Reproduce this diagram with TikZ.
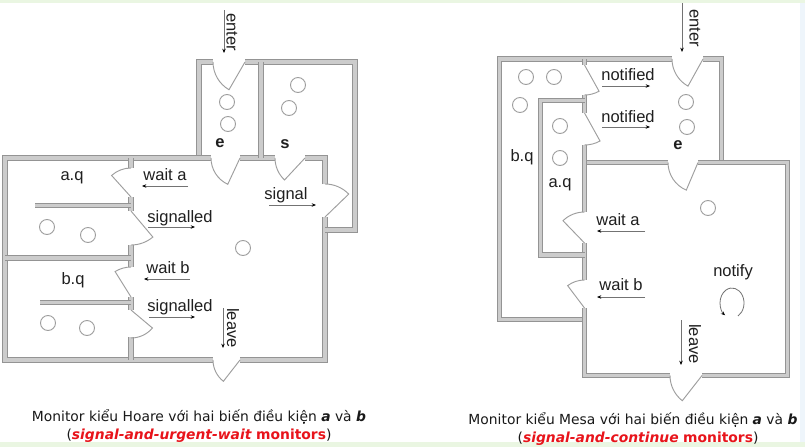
\documentclass[tikz,border=0pt]{standalone}
\usepackage{fontspec}
\setmainfont{Liberation Sans}
\newfontfamily\capfont{DejaVu Sans}
\usetikzlibrary{arrows.meta}
\definecolor{bandgreen}{HTML}{EAF6E2}
\definecolor{bandblue}{HTML}{EEF5FB}
\definecolor{capred}{HTML}{E8141B}
\newcommand\drw[5]{\draw[doorst] (#1,#2) ++(#4:#3) arc[start angle=#4, end angle=#5, radius=#3] -- (#1,#2);}
\begin{document}
\begin{tikzpicture}[x=0.75pt,y=-0.75pt,
  wall/.style={draw=black!42, line width=0.8pt, double=black!20, double distance=2.3pt},
  doorst/.style={draw=black!38, line width=0.7pt},
  pers/.style={draw=black!38, line width=0.7pt},
  arr/.style={draw=black!55, line width=0.6pt, -{Stealth[length=3.2pt,width=2.6pt,black]}},
  lbl/.style={font=\fontsize{12.4}{14}\selectfont, text=black!88, inner sep=0pt},
  blbl/.style={font=\bfseries\fontsize{12.4}{14}\selectfont, text=black!88, inner sep=0pt},
  captxt/.style={font=\capfont\fontsize{10.4}{12}\selectfont, text=black!90, inner sep=0pt}]
\useasboundingbox (0,0) rectangle (805,447);
\clip (0,0) rectangle (805,447);
\fill[white] (0,0) rectangle (805,447);
\fill[bandgreen] (0,0) rectangle (805,3);
\fill[bandgreen] (0,442) rectangle (805,447);
\fill[bandblue] (800,3) rectangle (805,442);

% ================= LEFT (Hoare) =================
% walls
\draw[wall] (213,62) -- (199,62) -- (199,158);
\draw[wall] (211,158) -- (5,158) -- (5,360) -- (213,360);
\draw[wall] (240,360) -- (325,360) -- (325,217);
\draw[wall] (325,184) -- (325,158) -- (305,158);
\draw[wall] (275,158) -- (240,158);
\draw[wall] (245,62) -- (355,62) -- (355,230) -- (325,230);
\draw[wall] (261,62) -- (261,158);
\draw[wall] (131,158) -- (131,168);
\draw[wall] (131,197) -- (131,211);
\draw[wall] (131,245) -- (131,267);
\draw[wall] (131,297) -- (131,310);
\draw[wall] (131,337) -- (131,360);
\draw[wall] (35,205.5) -- (131,205.5);
\draw[wall] (5,258) -- (131,258);
\draw[wall] (40,302.5) -- (131,302.5);
% doors
\drw{245}{62}{32}{180}{120}
\drw{240}{158}{29}{180}{115}
\drw{305}{158}{30}{180}{133}
\drw{325}{217}{33}{-90}{-44}
\drw{131}{197}{29}{-90}{-132}
\drw{131}{211}{34}{90}{50}
\drw{131}{297}{30}{-90}{-122}
\drw{131}{310}{28}{90}{40}
\drw{240}{360}{27}{180}{128}
% people
\foreach \p in {(227,102),(228,124),(298,85),(289,108),(243,248),(47,227),(88,235),(48,323),(87,328)}
  \draw[pers] \p circle[radius=7.5];
% labels and arrows
\node[lbl, rotate=-90] (enterL) at (232,32) {enter};
\coordinate (enLa) at (224,10); \coordinate (enLb) at (224,53);
\draw[arr] (enLa) -- (enLb);
\node[blbl] (eL) at (220,143) {e};
\node[blbl] (sL) at (285,144) {s};
\node[lbl] (aqL) at (72,178) {a.q};
\node[lbl] (bqL) at (73,280) {b.q};
\node[lbl] (waL) at (165,175) {wait a};
\coordinate (waLa) at (188,186); \coordinate (waLb) at (142,186);
\draw[arr] (waLa) -- (waLb);
\node[lbl] (saL) at (180,218) {signalled};
\coordinate (saLa) at (148,227); \coordinate (saLb) at (195,227);
\draw[arr] (saLa) -- (saLb);
\node[lbl] (sigL) at (286,195) {signal};
\coordinate (sigLa) at (269,205); \coordinate (sigLb) at (316,205);
\draw[arr] (sigLa) -- (sigLb);
\node[lbl] (wbL) at (168,268) {wait b};
\coordinate (wbLa) at (190,279); \coordinate (wbLb) at (144,279);
\draw[arr] (wbLa) -- (wbLb);
\node[lbl] (sbL) at (180,307) {signalled};
\coordinate (sbLa) at (149,317); \coordinate (sbLb) at (195,317);
\draw[arr] (sbLa) -- (sbLb);
\node[lbl, rotate=-90] (leaveL) at (233,328) {leave};
\coordinate (lvLa) at (223,308); \coordinate (lvLb) at (223,348);
\draw[arr] (lvLa) -- (lvLb);
% caption
\node[captxt] (capL1) at (199,416.5) {Monitor kiểu Hoare với hai biến điều kiện \textbf{\textit{a}} và \textbf{\textit{b}}};
\node[captxt] (capL2) at (199,436) {(\textcolor{capred}{\textbf{\textit{signal-and-urgent-wait}} \textbf{monitors}})};

% ================= RIGHT (Mesa) =================
\draw[wall] (672,59) -- (499.5,59) -- (499.5,319.5) -- (584.5,319.5);
\draw[wall] (703,59) -- (721.5,59) -- (721.5,162.5);
\draw[wall] (668,162.5) -- (584.5,162.5);
\draw[wall] (698,162.5) -- (787.5,162.5) -- (787.5,375.5) -- (702,375.5);
\draw[wall] (670,375.5) -- (584.5,375.5) -- (584.5,308);
\draw[wall] (584.5,280) -- (584.5,243);
\draw[wall] (584.5,212) -- (584.5,145);
\draw[wall] (584.5,113) -- (584.5,95);
\draw[wall] (584.5,59) -- (584.5,65);
\draw[wall] (584.5,100.5) -- (540.5,100.5) -- (540.5,255) -- (584.5,255);
% doors
\drw{703}{59}{31}{180}{119}
\drw{698}{162.5}{30}{180}{113}
\drw{584.5}{65}{30}{90}{61}
\drw{584.5}{113}{32}{90}{61}
\drw{584.5}{243}{31}{-90}{-134}
\drw{584.5}{308}{28}{-90}{-127}
\drw{702}{375.5}{32}{180}{128}
% people
\foreach \p in {(526,77),(554,77),(520,105),(560,126),(560,158),(686,102),(687,127),(708,208)}
  \draw[pers] \p circle[radius=7.5];
% labels and arrows
\node[lbl, rotate=-90] (enterR) at (695,28) {enter};
\coordinate (enRa) at (682,3); \coordinate (enRb) at (682,52);
\draw[arr] (enRa) -- (enRb);
\node[lbl] (bqR) at (522,157) {b.q};
\node[lbl] (aqR) at (560,185) {a.q};
\node[blbl] (eR) at (678,145) {e};
\node[lbl] (n1R) at (628,75) {notified};
\coordinate (n1Ra) at (602,86); \coordinate (n1Rb) at (650,86);
\draw[arr] (n1Ra) -- (n1Rb);
\node[lbl] (n2R) at (628,117) {notified};
\coordinate (n2Ra) at (602,127); \coordinate (n2Rb) at (650,127);
\draw[arr] (n2Ra) -- (n2Rb);
\node[lbl] (waR) at (618,220) {wait a};
\coordinate (waRa) at (645,231); \coordinate (waRb) at (597,231);
\draw[arr] (waRa) -- (waRb);
\node[lbl] (wbR) at (621,285) {wait b};
\coordinate (wbRa) at (645,297); \coordinate (wbRb) at (597,297);
\draw[arr] (wbRa) -- (wbRb);
\node[lbl] (notifyR) at (733,272) {notify};
\coordinate (loopc) at (732,303);
\draw[arr] (loopc) ++(60:12 and 15) arc[start angle=60, end angle=-235, x radius=12, y radius=15];
\node[lbl, rotate=-90] (leaveR) at (695,344) {leave};
\coordinate (lvRa) at (681,320); \coordinate (lvRb) at (681,365);
\draw[arr] (lvRa) -- (lvRb);
% caption
\node[captxt] (capR1) at (633,420) {Monitor kiểu Mesa với hai biến điều kiện \textbf{\textit{a}} và \textbf{\textit{b}}};
\node[captxt] (capR2) at (638,438.5) {(\textcolor{capred}{\textbf{\textit{signal-and-continue}} \textbf{monitors}})};
\end{tikzpicture}
\end{document}
